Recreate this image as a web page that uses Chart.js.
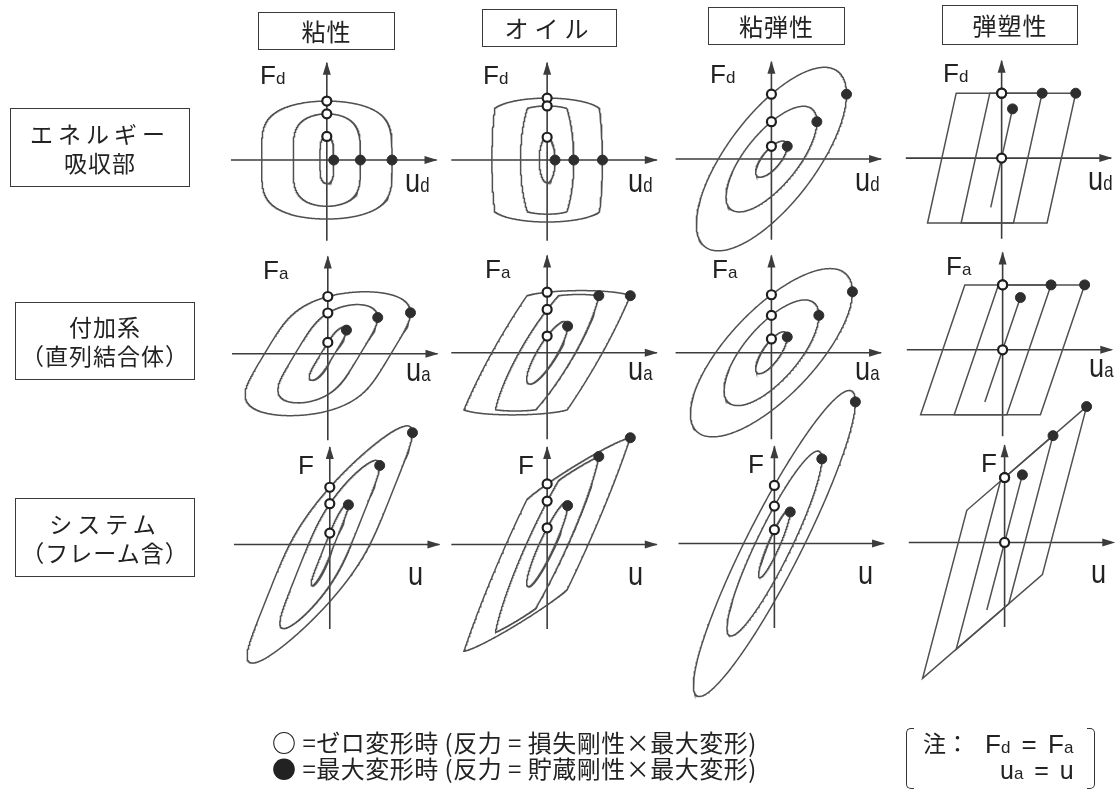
<!DOCTYPE html>
<html>
<head>
<meta charset="utf-8">
<script src="https://cdn.jsdelivr.net/npm/chart.js@4.4.1/dist/chart.umd.min.js"></script>
<style>
  body { margin: 0; background: #fff; }
  #wrap { position: relative; width: 1118px; height: 791px; overflow: hidden; }
  #c { position: absolute; left: 0; top: 0; }
  .box { position: absolute; box-sizing: border-box; border: 1.6px solid #3a3a3a; display: flex; flex-direction: column;
         align-items: center; justify-content: center; font-family: "Noto Sans CJK JP", sans-serif; color: #222; line-height: 1.25; }
  .lbl { position: absolute; white-space: nowrap; line-height: 1; color: #222; }
  .lat { font-family: "Liberation Sans", Arial, sans-serif; }
  .jp { font-family: "Noto Sans CJK JP", sans-serif; }
  .brk { position: absolute; box-sizing: border-box; border: 1.5px solid #333; }
</style>
</head>
<body>
<div id="wrap"><canvas id="c" width="1118" height="791"></canvas></div>
<script>
var colTitles = ['粘性', 'オイル', '粘弾性', '弾塑性'];
var rowTitles = [['エネルギー', '吸収部'], ['付加系', '（直列結合体）'], ['システム', '（フレーム含）']];
var axisSubs = ['d', 'a', ''];

// viscous damper, loops outer / middle / inner
var viscAmp = [66, 34, 7];          // damper deformation amplitude
var viscForce = [60, 47, 24];       // force at zero deformation
var viscAmpA = [64, 33, 7];         // in series with brace
var viscForceA = [63, 50, 27];
var viscExp = 0.45;                 // velocity exponent

// oil damper (relief valve)
var oilAmp = [56, 27, 8];
var oilAmpA = [56, 28.6, 11];
var oilC = 2.9;
var oilRelief = [52.6, 58];
var oilPost = [0.095, 0.05];

// viscoelastic: amplitude, force at max deformation, force at zero deformation
var veAmp = [76, 46, 16];
var veStore = [66, 38, 13];
var veLoss = [66, 38, 13];
var veAmpA = [82, 48, 16];
var veStoreA = [62, 38, 16];
var veLossA = [59, 38, 14];

// elastoplastic
var epAmp = [75, 41, 11];
var epAmpA = [83, 49, 18];
var epYield = 66;
var epK = 4.55;
var epKA = 2.95;

var braceShear = [0.6, 0.55];        // viscous, oil : u_a = u_d + F / Kb
var frameK = [0.86, 0.6, 1.0, 0.87];  // F = F_a + Kf * u, per column

// layout: axis origin of each cell
var originX = [[324, 547, 774, 1007], [325, 547, 774, 1008], [327, 547, 777, 1010]];
var originY = [[156, 156, 155, 154], [353, 352, 352, 349], [547, 547, 546, 545]];
var axisDown = [82, 88, 86];

function shear(pts, sx, kf) {
  return pts.map(function (p) {
    var u = p[0] + sx * p[1];
    return [u, p[1] + kf * u];
  });
}

function viscLoop(A, P) {
  var pts = [];
  for (var i = 0; i <= 720; i++) {
    var t = i * Math.PI / 360;
    var c = Math.cos(t);
    pts.push([A * Math.sin(t), P * Math.sign(c) * Math.pow(Math.abs(c), viscExp)]);
  }
  return pts;
}

function oilLoop(A, j) {
  var pts = [];
  for (var i = 0; i <= 720; i++) {
    var t = i * Math.PI / 360;
    var f = oilC * A * Math.cos(t), a = Math.abs(f);
    if (a > oilRelief[j]) f = Math.sign(f) * (oilRelief[j] + oilPost[j] * (a - oilRelief[j]));
    pts.push([A * Math.sin(t), f]);
  }
  return pts;
}

function ellipse(A, Fm, F0) {
  var pts = [];
  for (var i = 0; i <= 360; i++) {
    var t = i * Math.PI / 180;
    pts.push([A * Math.cos(t), Fm * Math.cos(t) + F0 * Math.sin(t)]);
  }
  return pts;
}

function epLoop(A, Fy, k) {
  if (k * A <= Fy) return [[-A, -k * A], [A, k * A]];
  var d = 2 * Fy / k;
  return [[A, Fy], [A - d, -Fy], [-A, -Fy], [-A + d, Fy], [A, Fy]];
}

function cellLoops(r, c) {
  var out = [];
  var kf = r === 2 ? frameK[c] : 0;
  for (var k = 0; k < 3; k++) {
    var pts;
    if (c === 0) {
      pts = r === 0 ? viscLoop(viscAmp[k], viscForce[k]) : shear(viscLoop(viscAmpA[k], viscForceA[k]), braceShear[0], kf);
    } else if (c === 1) {
      pts = r === 0 ? oilLoop(oilAmp[k], 0) : shear(oilLoop(oilAmpA[k], 1), braceShear[1], kf);
    } else if (c === 2) {
      pts = r === 0 ? ellipse(veAmp[k], veStore[k], veLoss[k]) : shear(ellipse(veAmpA[k], veStoreA[k], veLossA[k]), 0, kf);
    } else {
      pts = r === 0 ? epLoop(epAmp[k], epYield, epK) : shear(epLoop(epAmpA[k], epYield, epKA), 0, kf);
    }
    out.push(pts);
  }
  return out;
}

// point of the loop on the force axis (zero deformation), upper branch
function zeroPoint(pts) {
  var best = null;
  for (var i = 0; i < pts.length - 1; i++) {
    var a = pts[i], b = pts[i + 1];
    if ((a[0] <= 0 && b[0] >= 0) || (a[0] >= 0 && b[0] <= 0)) {
      var f = a[0] === b[0] ? Math.max(a[1], b[1]) : a[1] + (b[1] - a[1]) * a[0] / (a[0] - b[0]);
      if (best === null || f > best) best = f;
    }
  }
  return [0, best];
}

function maxPoint(pts) {
  var m = pts[0];
  pts.forEach(function (p) { if (p[0] > m[0]) m = p; });
  return m;
}

var datasets = [];
var openPts = [], fullPts = [];
for (var r = 0; r < 3; r++) {
  for (var c = 0; c < 4; c++) {
    var ox = originX[r][c], oy = originY[r][c];
    var toXY = function (p) { return { x: ox + p[0], y: oy - p[1] }; };
    datasets.push({ data: [{ x: ox - 97, y: oy }, { x: ox + 111, y: oy }], arrow: true, order: 3 });
    datasets.push({ data: [{ x: ox, y: oy + axisDown[r] }, { x: ox, y: oy - 99 }], arrow: true, order: 3 });
    cellLoops(r, c).forEach(function (pts) {
      datasets.push({ data: pts.map(toXY), order: 2, borderColor: '#505050', borderWidth: 1.5 });
      openPts.push(toXY(zeroPoint(pts)));
      fullPts.push(toXY(maxPoint(pts)));
    });
  }
}
datasets.forEach(function (d) {
  d.showLine = true;
  d.pointRadius = 0;
  d.fill = false;
  if (d.arrow) { d.borderColor = '#3c3c3c'; d.borderWidth = 1.6; }
});
datasets.push({ data: fullPts, order: 1, showLine: false, pointRadius: 5, pointBackgroundColor: '#2e2e2e', pointBorderColor: '#2e2e2e', pointBorderWidth: 1 });
datasets.push({ data: openPts, order: 0, showLine: false, pointRadius: 4.5, pointBackgroundColor: '#ffffff', pointBorderColor: '#1e1e1e', pointBorderWidth: 2.2 });

var arrowPlugin = {
  id: 'arrows',
  afterDatasetsDraw: function (chart) {
    var ctx = chart.ctx;
    chart.data.datasets.forEach(function (d, i) {
      if (!d.arrow) return;
      var pts = chart.getDatasetMeta(i).data;
      var a = pts[0], b = pts[1];
      var ang = Math.atan2(b.y - a.y, b.x - a.x);
      ctx.save();
      ctx.translate(b.x, b.y);
      ctx.rotate(ang);
      ctx.fillStyle = '#3c3c3c';
      ctx.beginPath();
      ctx.moveTo(1, 0);
      ctx.lineTo(-12, -4);
      ctx.lineTo(-12, 4);
      ctx.closePath();
      ctx.fill();
      ctx.restore();
    });
  }
};

new Chart(document.getElementById('c').getContext('2d'), {
  type: 'scatter',
  data: { datasets: datasets },
  options: {
    responsive: false,
    animation: false,
    layout: { padding: 0 },
    plugins: { legend: { display: false }, tooltip: { enabled: false } },
    elements: { line: { tension: 0 } },
    scales: {
      x: { type: 'linear', min: 0, max: 1118, display: false },
      y: { type: 'linear', min: 0, max: 791, reverse: true, display: false }
    }
  },
  plugins: [arrowPlugin]
});

// ---- text ----
var wrap = document.getElementById('wrap');
function el(cls, css, html) {
  var d = document.createElement('div');
  d.className = cls;
  d.style.cssText = css;
  d.innerHTML = html;
  wrap.appendChild(d);
  return d;
}
var headBoxes = [[258, 12, 137, 38], [482, 9, 135, 38], [708, 7, 137, 38], [942, 5, 136, 40]];
colTitles.forEach(function (t, i) {
  var b = headBoxes[i];
  el('box', 'left:' + b[0] + 'px;top:' + b[1] + 'px;width:' + b[2] + 'px;height:' + b[3] + 'px;font-size:24px;letter-spacing:' + (i === 1 ? 6 : 1) + 'px;', t);
});
var rowBoxes = [[10, 108, 180, 79], [15, 302, 180, 78], [15, 498, 180, 79]];
rowTitles.forEach(function (t, i) {
  var b = rowBoxes[i];
  el('box', 'left:' + b[0] + 'px;top:' + b[1] + 'px;width:' + b[2] + 'px;height:' + b[3] + 'px;font-size:23px;',
     '<div style="letter-spacing:' + (i === 1 ? 1 : 5) + 'px">' + t[0] + '</div><div style="letter-spacing:1px">' + t[1] + '</div>');
});

var fLeft = [-64, -62, -29], fBase = [-72, -74, -73];
var uBase = [36, 28, 38];
for (var r2 = 0; r2 < 3; r2++) {
  for (var c2 = 0; c2 < 4; c2++) {
    var x0 = originX[r2][c2], y0 = originY[r2][c2];
    var sub = axisSubs[r2] ? '<span style="font-size:17px">' + axisSubs[r2] + '</span>' : '';
    el('lbl lat', 'left:' + (x0 + fLeft[r2]) + 'px;top:' + (y0 + fBase[r2] - 0.85 * 26) + 'px;font-size:26px;', 'F' + sub);
    el('lbl lat', 'left:' + (x0 + 81) + 'px;top:' + (y0 + uBase[r2] - 0.85 * 34) + 'px;font-size:34px;transform:scaleX(0.8);transform-origin:0 0;',
       'u' + (axisSubs[r2] ? '<span style="font-size:21px">' + axisSubs[r2] + '</span>' : ''));
  }
}

el('lbl jp', 'left:272px;top:730px;font-size:24px;letter-spacing:0.5px;', '<b>○</b> =ゼロ変形時 (反力 = 損失剛性×最大変形)');
el('lbl jp', 'left:272px;top:756px;font-size:24px;letter-spacing:0.5px;', '● =最大変形時 (反力 = 貯蔵剛性×最大変形)');
el('lbl jp', 'left:923px;top:731px;font-size:23px;', '注：');
el('lbl lat', 'left:985px;top:731px;font-size:26px;word-spacing:4px;', 'F<span style="font-size:17px">d</span> = F<span style="font-size:17px">a</span>');
el('lbl lat', 'left:1000px;top:758px;font-size:25px;word-spacing:4px;', 'u<span style="font-size:17px">a</span> = u');
el('brk', 'left:906px;top:728px;width:8px;height:61px;border-right:none;border-radius:5px 0 0 5px;', '');
el('brk', 'left:1087px;top:728px;width:8px;height:61px;border-left:none;border-radius:0 5px 5px 0;', '');
</script>
</body>
</html>
